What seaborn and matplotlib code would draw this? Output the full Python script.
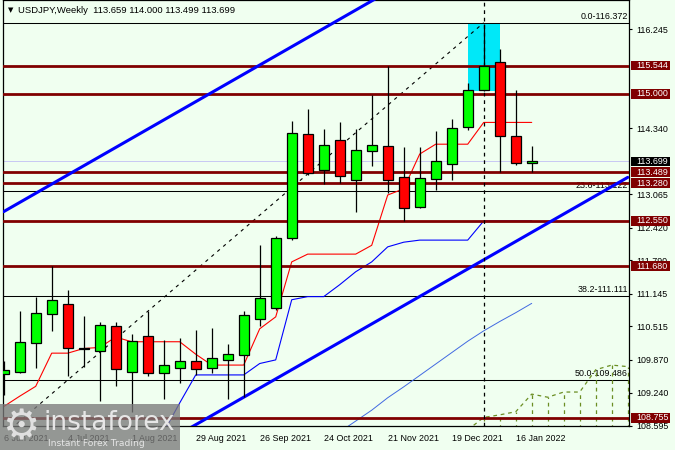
import numpy as np
import pandas as pd
import matplotlib
matplotlib.use("Agg")
import matplotlib.pyplot as plt
import matplotlib.transforms as mtrans
from matplotlib.patches import Rectangle
import seaborn as sns

# ---------------- data ----------------
week_start = pd.date_range("2021-06-06", periods=34, freq="7D")

opens = [109.60, 109.63, 110.19, 110.75, 110.94, 110.10, 110.04, 110.52, 109.63, 110.33,
         109.61, 109.71, 109.84, 109.71, 109.86, 109.96, 110.65, 110.87, 112.22, 114.22,
         113.53, 114.11, 113.34, 113.90, 113.99, 113.39, 112.81, 113.35, 113.64, 114.36,
         115.07, 115.61, 114.19, 113.659]
highs = [109.84, 110.81, 111.09, 111.69, 111.21, 110.72, 110.61, 110.61, 110.37, 110.81,
         110.25, 110.30, 110.45, 110.48, 110.18, 110.81, 112.09, 112.26, 114.48, 114.71,
         114.32, 114.46, 114.32, 114.98, 115.54, 113.97, 113.97, 114.29, 114.52, 115.21,
         116.35, 115.87, 115.08, 114.000]
lows = [109.19, 109.61, 109.71, 110.43, 109.55, 109.73, 109.08, 109.37, 108.87, 109.55,
        109.12, 109.43, 109.58, 109.62, 109.12, 109.16, 110.52, 110.83, 112.18, 113.44,
        113.26, 113.29, 112.73, 113.60, 113.08, 112.54, 112.80, 113.15, 113.33, 114.30,
        115.05, 113.50, 113.62, 113.499]
closes = [109.68, 110.21, 110.77, 111.02, 110.09, 110.08, 110.54, 109.69, 110.23, 109.61,
          109.77, 109.84, 109.69, 109.90, 109.98, 110.73, 111.06, 112.22, 114.24, 113.47,
          114.01, 113.41, 113.91, 114.01, 113.34, 112.79, 113.37, 113.71, 114.34, 115.07,
          115.53, 114.18, 113.66, 113.699]

tenkan = [108.97, 109.17, 109.36, 110.00, 110.00, 110.09, 110.11, 110.31, 110.22, 110.22,
          110.22, 110.22, 109.98, 109.77, 109.77, 109.77, 110.47, 110.70, 111.76, 111.91,
          111.91, 111.91, 111.91, 112.08, 113.05, 113.17, 113.84, 114.03, 114.03, 114.03,
          114.45, 114.45, 114.45, 114.45]

kijun_idx = list(range(9, 34))
kijun = [107.94, 108.48, 109.04, 109.58, 109.58, 109.58, 109.58, 109.80, 109.87, 111.03,
         111.09, 111.09, 111.32, 111.57, 111.76, 112.05, 112.14, 112.18, 112.18, 112.18,
         112.18, 112.55, 112.55, 112.55, 112.55]

ma_idx = list(range(21, 34))
ma = [108.48, 108.69, 108.90, 109.14, 109.35, 109.57, 109.79, 110.01, 110.23, 110.43,
      110.61, 110.78, 110.96]

span_idx = list(range(29, 40))
span_a = [108.52, 108.76, 108.81, 108.87, 109.21, 109.15, 109.25, 109.25, 109.68, 109.77, 109.74]
cloud_floor = 108.0

levels = [115.544, 115.000, 113.489, 113.280, 112.550, 111.680, 108.755]
fib_levels = [116.372, 113.122, 111.111, 109.486]
fib_labels = ["0.0-116.372", "23.6-113.122", "38.2-111.111", "50.0-109.486"]
axis_ticks = [116.245, 114.340, 113.065, 112.420, 111.790, 111.145, 110.515, 109.870, 109.240, 108.595]
last_price = 113.699

channel_idx = [0, 39]
channel_upper = [112.73, 119.62]
channel_lower = [106.50, 113.39]

fib_trend_idx = [-22, 30]
fib_trend = [102.59, 116.372]

marker_idx = 30
box_idx = [29, 31]
box_price = [115.055, 116.372]

date_tick_idx = list(range(0, 34, 4))
date_labels = [f"{d.day} {d:%b %Y}" for d in week_start[::4]]

header = "USDJPY,Weekly  113.659 114.000 113.499 113.699"

# ---------------- style ----------------
BG = "#F0FFF0"
MAROON = "#800000"
sns.set_style("white")
plt.rcParams["font.family"] = ["Liberation Sans", "DejaVu Sans"]
FS = 6.4

fig = plt.figure(figsize=(6.75, 4.5), dpi=100, facecolor=BG)
ax = fig.add_axes([3 / 675, 24 / 450, 626 / 675, 426 / 450])
ax.set_facecolor(BG)
ax.set_xlim(-0.044, 39.08)
ax.set_ylim(108.595, 116.811)

# cyan box
ax.add_patch(Rectangle((box_idx[0], box_price[0]), box_idx[1] - box_idx[0],
                       box_price[1] - box_price[0], facecolor="#00E8F8",
                       edgecolor="none", zorder=1))

# bid line
ax.axhline(last_price, color="#C8C8F4", lw=0.7, zorder=1.2)

# fibonacci levels
for lv, lab in zip(fib_levels, fib_labels):
    ax.axhline(lv, color="black", lw=0.75, zorder=1.5)
    ax.annotate(lab, xy=(1.0, lv), xycoords=ax.get_yaxis_transform(),
                xytext=(-1, 1.2), textcoords="offset points", ha="right", va="bottom",
                fontsize=FS, color="black", zorder=1.6)

# fibo trend (dashed)
ax.plot(fib_trend_idx, fib_trend, color="black", lw=0.8, ls=(0, (3, 4)), zorder=1.7)

# indicators
sns.lineplot(x=list(range(34)), y=tenkan, ax=ax, color="red", lw=0.8,
             estimator=None, sort=False, zorder=2)
sns.lineplot(x=kijun_idx, y=kijun, ax=ax, color="#0000FF", lw=0.8,
             estimator=None, sort=False, zorder=2)
sns.lineplot(x=ma_idx, y=ma, ax=ax, color="#4169E1", lw=0.7,
             estimator=None, sort=False, zorder=2)
sns.lineplot(x=span_idx, y=span_a, ax=ax, color="#6B8E23", lw=0.9, ls=(0, (3, 3)),
             estimator=None, sort=False, zorder=2)
ax.vlines(span_idx[1:], cloud_floor, span_a[1:], color="#6B8E23", lw=0.9,
          linestyles=(0, (3, 3)), zorder=2)

# maroon levels
for lv in levels:
    ax.axhline(lv, color=MAROON, lw=2.0, zorder=3)

# channel
ax.plot(channel_idx, channel_upper, color="#0000FF", lw=2.2, zorder=4)
ax.plot(channel_idx, channel_lower, color="#0000FF", lw=2.2, zorder=4)

# vertical dashed marker
ax.axvline(marker_idx, color="black", lw=0.9, ls=(0, (3, 3)), zorder=4)

# candles
for i, (o, h, l, c) in enumerate(zip(opens, highs, lows, closes)):
    ax.vlines(i, l, h, color="black", lw=0.9, zorder=5)
    col = "#00FF00" if c >= o else "#FF0000"
    bottom = min(o, c)
    height = max(abs(c - o), 0.012)
    ax.add_patch(Rectangle((i - 0.3, bottom), 0.6, height, facecolor=col,
                           edgecolor="black", lw=0.9, zorder=5.1))

# axes frame
for s in ax.spines.values():
    s.set_color("black")
    s.set_linewidth(0.9)
    s.set_visible(True)

# y axis (right)
ax.yaxis.tick_right()
ax.set_yticks(axis_ticks)
ax.set_yticklabels([f"{t:.3f}" for t in axis_ticks])
ax.tick_params(axis="y", which="both", direction="out", length=2.5, width=0.8,
               pad=2.6, labelsize=FS, colors="black", left=False, right=True)

# x axis
ax.set_xticks(date_tick_idx)
ax.set_xticklabels(date_labels)
for lab in ax.get_xticklabels():
    lab.set_ha("left")
ax.tick_params(axis="x", direction="out", length=2.5, width=0.8, pad=3,
               labelsize=FS, colors="black")

# price boxes on the axis
tr = mtrans.blended_transform_factory(fig.transFigure, ax.transData)
bh = 9.6 / 51.85
for lv in levels + [last_price]:
    fc = "black" if lv == last_price else MAROON
    ax.add_patch(Rectangle((631 / 675, lv - bh / 2), 39 / 675, bh, transform=tr,
                           facecolor=fc, edgecolor="none", clip_on=False, zorder=6))
    ax.text(636 / 675, lv, f"{lv:.3f}", transform=tr, color="white", fontsize=FS,
            va="center", ha="left", clip_on=False, zorder=7)

# header
fig.text(8 / 675, 1 - 10.5 / 450, "\u25bc", fontsize=5, va="center", ha="left",
         color="black", family=["DejaVu Sans"])
fig.text(18 / 675, 1 - 10.5 / 450, header, fontsize=FS + 0.4, va="center", ha="left",
         color="black")

# watermark
fig.patches.append(Rectangle((0, 0), 180 / 675, 46 / 450, transform=fig.transFigure,
                             facecolor="#7A7A7A", alpha=0.78, edgecolor="none", zorder=10))
fig.text(2 / 675, 1 - 427 / 450, "\u2699", fontsize=30, color="#E0E0E0", va="center",
         ha="left", family=["DejaVu Sans"], zorder=11)
fig.text(44 / 675, 1 - 430 / 450, "instaforex", fontsize=19, color="#E6E6E6",
         va="baseline", ha="left", family=["DejaVu Sans"], zorder=11)
fig.text(48 / 675, 1 - 443 / 450, "Instant Forex Trading", fontsize=6.6, color="#E6E6E6",
         va="center", ha="left", family=["DejaVu Sans"], zorder=11)

fig.savefig("out.png", dpi=100, facecolor=BG)
